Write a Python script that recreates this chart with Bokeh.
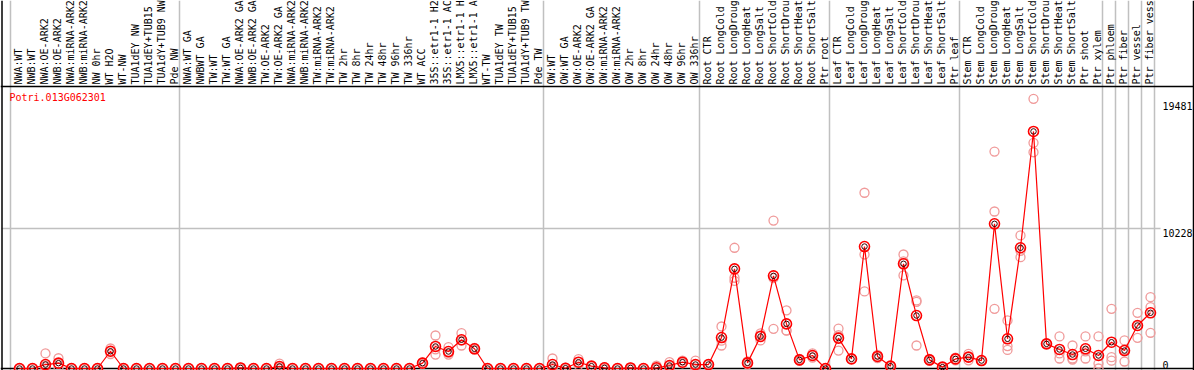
import math
from bokeh.plotting import figure
from bokeh.models import Range1d, ColumnDataSource
from bokeh.core.properties import value
from bokeh.embed import file_html
from bokeh.resources import INLINE

gene_name = "Potri.013G062301"

sample_labels = [
    "NWA:WT", "NWB:WT", "NWA:OE-ARK2", "NWB:OE-ARK2", "NWA:miRNA-ARK2", "NWB:miRNA-ARK2",
    "NW 0hr", "WT H2O", "WT-NW", "TUA1dEY NW", "TUA1dEY+TUB15", "TUA1dY+TUB9 NW", "Pde NW",
    "NWA:WT GA", "NWBWT GA", "TW:WT", "TW:WT GA", "NWA:OE-ARK2 GA", "NWB:OE-ARK2 GA",
    "TW:OE-ARK2", "TW:OE-ARK2 GA", "NWA:miRNA-ARK2", "NWB:miRNA-ARK2", "TW:miRNA-ARK2",
    "TW:miRNA-ARK2", "TW 2hr", "TW 8hr", "TW 24hr", "TW 48hr", "TW 96hr", "TW 336hr",
    "WT ACC", "35S::etr1-1 H2", "35S::etr1-1 AC", "LMX5::etr1-1 H", "LMX5::etr1-1 A",
    "WT-TW", "TUA1dEY TW", "TUA1dEY+TUB15", "TUA1dY+TUB9 TW", "Pde TW",
    "OW:WT", "OW:WT GA", "OW:OE-ARK2", "OW:OE-ARK2 GA", "OW:miRNA-ARK2", "OW:miRNA-ARK2",
    "OW 2hr", "OW 8hr", "OW 24hr", "OW 48hr", "OW 96hr", "OW 336hr",
    "Root CTR", "Root LongCold", "Root LongDroug", "Root LongHeat", "Root LongSalt",
    "Root ShortCold", "Root ShortDrou", "Root ShortHeat", "Root ShortSalt", "Ptr root",
    "Leaf CTR", "Leaf LongCold", "Leaf LongDroug", "Leaf LongHeat", "Leaf LongSalt",
    "Leaf ShortCold", "Leaf ShortDrou", "Leaf ShortHeat", "Leaf ShortSalt", "Ptr leaf",
    "Stem CTR", "Stem LongCold", "Stem LongDroug", "Stem LongHeat", "Stem LongSalt",
    "Stem ShortCold", "Stem ShortDrou", "Stem ShortHeat", "Stem ShortSalt", "Ptr shoot",
    "Ptr xylem", "Ptr phloem", "Ptr fiber", "Ptr vessel", "Ptr fiber vess",
]

mean_values = [
    0, 0, 290, 390, 0, 0, 0, 1260, 0, 0, 0, 0, 0,
    0, 0, 0, 0, 40, 0, 0, 150, 0, 0, 0, 0, 0, 0, 0, 0, 0, 0,
    390, 1610, 1240, 2100, 1440, 0, 0, 0, 0, 0,
    290, 20, 460, 170, 50, 0, 40, 0, 50, 220, 460, 290,
    290, 2260, 7280, 410, 2340, 6770, 3260, 630, 950, 0,
    2220, 700, 8910, 880, 170, 7650, 3870, 630, 100, 700,
    830, 580, 10570, 2170, 8820, 17320, 1800, 1390, 1020, 1440, 950,
    1920, 1310, 3140, 4070,
]

rep_a = [
    0, 0, 1100, 750, 0, 0, 0, 1460, 0, 0, 0, 0, 0,
    0, 0, 0, 0, 80, 0, 0, 350, 0, 0, 0, 0, 0, 0, 0, 0, 0, 0,
    450, 2410, 1560, 2580, 1440, 0, 0, 0, 0, 0,
    730, 60, 680, 170, 100, 0, 80, 0, 200, 460, 580, 580,
    290, 3070, 8820, 410, 2560, 10810, 4240, 630, 1100, 0,
    2920, 700, 12840, 1000, 170, 8330, 4970, 630, 100, 800,
    1070, 580, 15850, 3510, 9720, 19700, 1800, 2340, 1680, 2340, 2340,
    4360, 2050, 4070, 5210,
]

rep_b = [
    0, 0, 200, 350, 0, 0, 0, 1260, 0, 0, 0, 0, 0,
    0, 0, 0, 0, 40, 0, 0, 100, 0, 0, 0, 0, 0, 0, 0, 0, 0, 0,
    390, 1020, 1020, 1680, 1500, 0, 0, 0, 0, 0,
    100, 0, 460, 170, 50, 0, 40, 0, 0, 200, 400, 290,
    290, 1680, 6630, 300, 2050, 2900, 2780, 700, 950, 0,
    1310, 700, 8330, 880, 170, 6800, 4870, 700, 100, 700,
    830, 580, 11470, 1360, 8130, 16490, 1800, 730, 730, 730, 360,
    830, 510, 2240, 4480,
]

rep_c = [
    0, 0, 0, 100, 0, 0, 0, 1060, 0, 0, 0, 0, 0,
    0, 0, 0, 0, 0, 0, 0, 0, 0, 0, 0, 0, 0, 0, 0, 0, 0, 0,
    330, 1400, 1140, 2040, 1380, 0, 0, 0, 0, 0,
    50, 0, 240, 170, 0, 0, 0, 0, 0, 0, 400, 0,
    290, 2030, 6400, 520, 2410, 6600, 2760, 560, 800, 0,
    2430, 700, 5630, 760, 170, 7820, 1680, 560, 100, 600,
    600, 580, 4360, 1640, 8600, 15800, 1800, 1100, 650, 1250, 0,
    570, 1370, 3110, 2610,
]

group_bounds = [0, 13, 41, 53, 63, 73, 84, 85, 86, 87, 88]
ytick_values = [19481, 10228, 0]
ytick_labels = ["19481", "10228", "0"]

# ---- layout (page pixels -> data) ----
W, H = 1194, 370
PX = 13.0                      # pixels per sample
X0 = 19.0                      # page x of sample 0
Y0 = 368.0                     # page y of value 0
S = 140.0 / 10228.0            # pixels per unit

def dx(page_x):
    return (page_x - X0) / PX

def dy(page_y):
    return (Y0 - page_y) / S

p = figure(width=W, height=H, output_backend="svg", toolbar_location=None,
           x_range=Range1d(dx(0), dx(W)), y_range=Range1d(dy(H), dy(0)),
           min_border=0, background_fill_color="white", border_fill_color="white")
p.axis.visible = False
p.xgrid.visible = False
p.ygrid.visible = False
p.outline_line_color = None

mono = value("DejaVu Sans Mono")
n = len(sample_labels)
xs = list(range(n))

# group separators (gray vertical lines)
gx = [k - 9.0 / PX for k in group_bounds]
p.segment(x0=gx, y0=[dy(H)] * len(gx), x1=gx, y1=[dy(0)] * len(gx),
          line_color="#c0c0c0", line_width=1.5)

# horizontal gridline at middle tick
p.segment(x0=[dx(1)], y0=[ytick_values[1]], x1=[dx(1160)], y1=[ytick_values[1]],
          line_color="#c0c0c0", line_width=1.5)

# separator between label area and plot
p.segment(x0=[dx(0)], y0=[dy(86)], x1=[dx(W)], y1=[dy(86)],
          line_color="black", line_width=1.5)
# baseline at zero and borders
p.segment(x0=[dx(0)], y0=[0], x1=[dx(W)], y1=[0], line_color="black", line_width=1.5)
p.segment(x0=[dx(1.5), dx(1193)], y0=[dy(H)] * 2, x1=[dx(1.5), dx(1193)], y1=[dy(0)] * 2,
          line_color="black", line_width=1.5)

# sample labels (vertical)
lab_src = ColumnDataSource(dict(x=[i - 1.2 / PX for i in xs], y=[dy(84)] * n, t=sample_labels))
p.text(x="x", y="y", text="t", source=lab_src, angle=math.pi / 2,
       text_align="left", text_baseline="middle", text_font=mono,
       text_font_size="10px", text_color="black")

# gene name
p.text(x=[dx(9)], y=[dy(91)], text=[gene_name], text_align="left", text_baseline="top",
       text_font=mono, text_font_size="10px", text_color="red")

# y tick labels on the right
p.text(x=[dx(1162)] * 2, y=ytick_values[:2], text=ytick_labels[:2], text_align="left",
       text_baseline="top", text_font=mono, text_font_size="10px", text_color="black")
p.text(x=[dx(1162)], y=[ytick_values[2]], text=[ytick_labels[2]], text_align="left",
       text_baseline="bottom", text_font=mono, text_font_size="10px", text_color="black")

# replicate circles
for reps in (rep_a, rep_b, rep_c):
    p.scatter(x=xs, y=reps, marker="circle", size=9, fill_color=None,
              line_color="#f09a9a", line_width=1.3)

# mean line and markers
p.line(x=xs, y=mean_values, line_color="red", line_width=1.2)
p.scatter(x=xs, y=mean_values, marker="circle", size=10, fill_color=None,
          line_color="red", line_width=1.6)
p.scatter(x=xs, y=mean_values, marker="circle", size=5.5, fill_color=None,
          line_color="#300000", line_width=1)

open("out.html", "w").write(file_html(p, INLINE))
